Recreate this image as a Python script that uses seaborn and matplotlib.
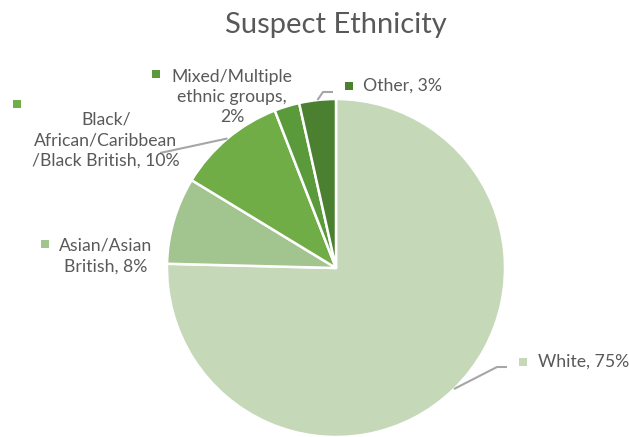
import numpy as np
import matplotlib.pyplot as plt
import seaborn as sns

# data
categories = ['White', 'Asian/Asian British', 'Black/African/Caribbean/Black British',
              'Mixed/Multiple ethnic groups', 'Other']
shares = [75.4, 8.3, 10.4, 2.4, 3.5]
label_text = ['White, 75%',
              'Asian/Asian\nBritish, 8%',
              'Black/\nAfrican/Caribbean\n/Black British, 10%',
              'Mixed/Multiple\nethnic groups,\n2%',
              'Other, 3%']
colors = ['#C5D9B9', '#A2C48E', '#70AD47', '#5B9A3A', '#4C8031']

sns.set_theme(style='white')
plt.rcParams['font.family'] = ['Lato', 'DejaVu Sans']

W, H = 629, 437
fig = plt.figure(figsize=(W / 100, H / 100), dpi=100)
ax = fig.add_axes([0, 0, 1, 1])

cx, cy, r = 336, H - 268, 169
wedges, _ = ax.pie(shares, colors=colors, startangle=90, counterclock=False,
                   center=(cx, cy), radius=r,
                   wedgeprops=dict(edgecolor='white', linewidth=1.8))
ax.set_xlim(0, W)
ax.set_ylim(0, H)
ax.set_aspect('equal')
ax.axis('off')

txt_col = '#595959'
line_col = '#A6A6A6'

# label placement (pixel coords from top-left): marker, text anchor, ha, elbow
layout = [
    dict(mk=(523, 362), tx=(538, 362), ha='left', elbow=[(497, 367), (507, 367)]),
    dict(mk=(45, 244), tx=(106, 256), ha='center', elbow=None),
    dict(mk=(17, 104), tx=(106, 140), ha='center', elbow=[(160, 153)]),
    dict(mk=(156, 74), tx=(232, 97), ha='center', elbow=None),
    dict(mk=(349, 86), tx=(363, 86), ha='left', elbow=[(323, 92), (333, 92)]),
]

for w, col, lab, lay in zip(wedges, colors, label_text, layout):
    mx, my = lay['mk']
    ax.scatter([mx], [H - my], marker='s', s=40, color=col, linewidths=0)
    tx, ty = lay['tx']
    ax.text(tx, H - ty, lab, ha=lay['ha'], va='center', fontsize=12.7,
            color=txt_col, linespacing=1.34, multialignment='center')
    if lay['elbow']:
        ang = np.deg2rad((w.theta1 + w.theta2) / 2)
        ax0, ay0 = cx + r * np.cos(ang), cy + r * np.sin(ang)
        pts = [(ax0, ay0)] + [(x, H - y) for x, y in lay['elbow']]
        xs, ys = zip(*pts)
        ax.plot(xs, ys, color=line_col, lw=1.5, solid_capstyle='butt')

ax.text(336, H - 25, 'Suspect Ethnicity', ha='center', va='center',
        fontsize=21, color=txt_col)

fig.savefig('out.png', dpi=100)
